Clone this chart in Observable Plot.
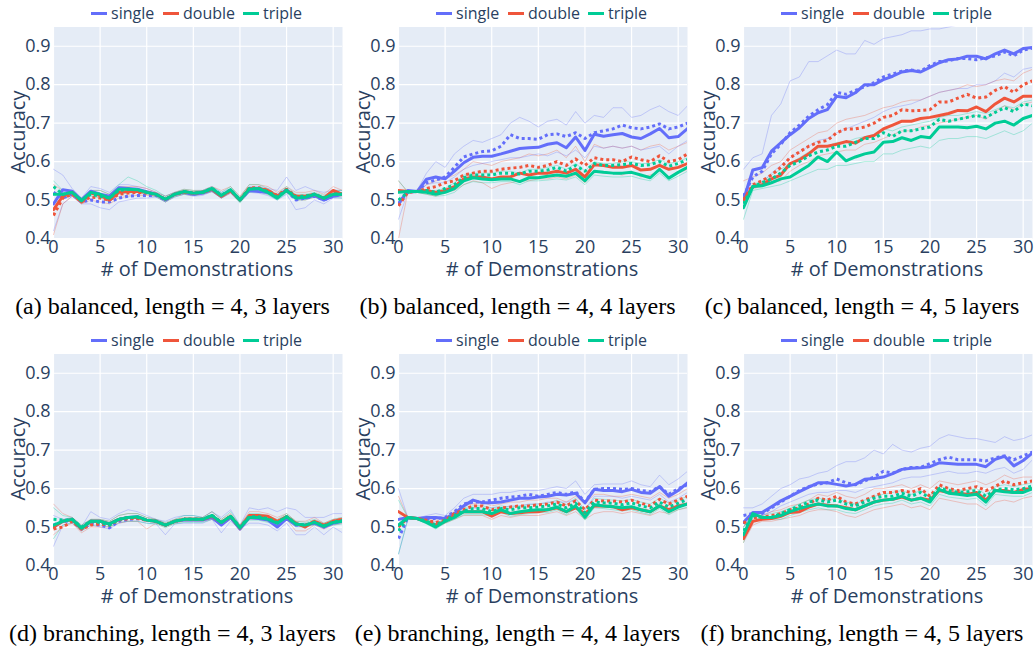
<!DOCTYPE html>
<html><head><meta charset="utf-8">
<script src="https://cdn.jsdelivr.net/npm/d3@7"></script>
<script src="https://cdn.jsdelivr.net/npm/@observablehq/plot@0.6"></script>
<style>
body{margin:0;background:#fff;}
#root{position:relative;width:1034px;height:651px;overflow:hidden;background:#fff;font-family:"Open Sans",sans-serif;color:#2a3f5f}
.panel{position:absolute;height:285px;overflow:hidden}
.panel svg{position:absolute;left:0;top:0}
.lt{position:absolute;top:0;font-size:16px;line-height:26px;white-space:nowrap}
.sw{position:absolute;top:11.5px;width:16px;height:3px}
.ytitle{position:absolute;left:18px;top:132px;transform:translate(-50%,-50%) rotate(-90deg);font-size:20px;line-height:1;white-space:nowrap}
.xtitle{position:absolute;left:197px;top:269px;transform:translate(-50%,-50%);font-size:20px;line-height:1;white-space:nowrap}
.cap{position:absolute;text-align:center;font-family:"Liberation Serif","Times New Roman",serif;font-size:24px;line-height:26px;color:#000;white-space:nowrap}
</style></head>
<body><div id="root"></div>
<script>
// ---------- data ----------
const demos = [0,1,2,3,4,5,6,7,8,9,10,11,12,13,14,15,16,17,18,19,20,21,22,23,24,25,26,27,28,29,30,31];
const seriesNames = ["single","double","triple"];
const seriesColors = ["#636EFA","#EF553B","#00CC96"];
const xTicks = [0,5,10,15,20,25,30];
const yTicks = [0.4,0.5,0.6,0.7,0.8,0.9];
const captions = [
  "(a) balanced, length = 4, 3 layers",
  "(b) balanced, length = 4, 4 layers",
  "(c) balanced, length = 4, 5 layers",
  "(d) branching, length = 4, 3 layers",
  "(e) branching, length = 4, 4 layers",
  "(f) branching, length = 4, 5 layers"
];

// panel (a)
const A_sS = [0.49,0.527,0.523,0.5,0.523,0.515,0.51,0.532,0.53,0.528,0.522,0.515,0.5,0.515,0.52,0.515,0.518,0.527,0.51,0.525,0.5,0.525,0.522,0.52,0.51,0.527,0.505,0.505,0.512,0.5,0.51,0.515];
const A_sD = [0.52,0.505,0.515,0.495,0.5,0.495,0.495,0.505,0.51,0.512,0.512,0.512,0.5,0.515,0.52,0.515,0.52,0.528,0.512,0.525,0.5,0.525,0.525,0.52,0.51,0.525,0.5,0.505,0.51,0.5,0.51,0.515];
const A_sH = [0.58,0.565,0.53,0.505,0.535,0.53,0.52,0.54,0.54,0.535,0.53,0.52,0.51,0.52,0.525,0.522,0.525,0.535,0.52,0.53,0.505,0.535,0.535,0.53,0.525,0.56,0.525,0.535,0.525,0.52,0.525,0.525];
const A_sL = [0.42,0.49,0.51,0.49,0.49,0.48,0.475,0.495,0.5,0.505,0.505,0.508,0.495,0.508,0.515,0.51,0.512,0.522,0.505,0.518,0.495,0.52,0.518,0.512,0.5,0.515,0.475,0.48,0.5,0.49,0.505,0.505];
const A_dS = [0.475,0.51,0.52,0.495,0.518,0.512,0.5,0.52,0.522,0.522,0.52,0.515,0.502,0.515,0.522,0.518,0.52,0.528,0.51,0.525,0.5,0.53,0.53,0.525,0.51,0.525,0.51,0.51,0.515,0.505,0.525,0.515];
const A_dD = [0.46,0.505,0.515,0.495,0.508,0.505,0.5,0.515,0.518,0.52,0.518,0.515,0.502,0.515,0.52,0.518,0.52,0.53,0.51,0.525,0.5,0.532,0.532,0.525,0.512,0.528,0.51,0.51,0.515,0.505,0.52,0.515];
const A_dH = [0.54,0.525,0.525,0.505,0.525,0.525,0.515,0.535,0.535,0.535,0.53,0.52,0.51,0.52,0.528,0.525,0.525,0.535,0.525,0.535,0.51,0.54,0.54,0.535,0.52,0.535,0.52,0.52,0.525,0.515,0.535,0.525];
const A_dL = [0.41,0.49,0.51,0.49,0.5,0.495,0.49,0.505,0.51,0.512,0.512,0.51,0.495,0.51,0.515,0.512,0.515,0.522,0.505,0.518,0.495,0.522,0.522,0.515,0.505,0.52,0.5,0.5,0.508,0.5,0.51,0.51];
const A_tS = [0.515,0.515,0.52,0.498,0.52,0.515,0.505,0.528,0.528,0.527,0.52,0.515,0.502,0.515,0.522,0.518,0.52,0.53,0.512,0.527,0.5,0.528,0.53,0.52,0.505,0.525,0.505,0.507,0.515,0.505,0.515,0.515];
const A_tD = [0.535,0.515,0.52,0.5,0.515,0.51,0.505,0.525,0.528,0.527,0.52,0.515,0.502,0.515,0.522,0.518,0.52,0.53,0.513,0.527,0.5,0.53,0.53,0.522,0.508,0.526,0.508,0.51,0.515,0.505,0.516,0.515];
const A_tH = [0.55,0.525,0.525,0.505,0.525,0.525,0.515,0.54,0.56,0.55,0.535,0.525,0.51,0.52,0.528,0.525,0.525,0.535,0.52,0.535,0.508,0.54,0.54,0.53,0.515,0.535,0.515,0.515,0.52,0.512,0.525,0.525];
const A_tL = [0.49,0.505,0.515,0.492,0.51,0.505,0.495,0.515,0.518,0.52,0.515,0.508,0.495,0.508,0.515,0.512,0.515,0.522,0.505,0.52,0.492,0.52,0.522,0.515,0.5,0.518,0.5,0.5,0.508,0.498,0.508,0.505];

// panel (b)
const B_sS = [0.49,0.525,0.522,0.554,0.56,0.555,0.575,0.597,0.611,0.614,0.614,0.62,0.627,0.634,0.636,0.637,0.645,0.649,0.636,0.664,0.629,0.671,0.666,0.67,0.673,0.664,0.66,0.672,0.686,0.662,0.665,0.686];
const B_sD = [0.49,0.52,0.522,0.545,0.552,0.56,0.585,0.612,0.62,0.626,0.628,0.64,0.67,0.66,0.66,0.658,0.67,0.672,0.665,0.675,0.66,0.675,0.68,0.685,0.695,0.688,0.685,0.69,0.698,0.685,0.69,0.70];
const B_sH = [0.45,0.52,0.525,0.57,0.6,0.585,0.62,0.64,0.655,0.65,0.66,0.67,0.7,0.715,0.705,0.69,0.705,0.71,0.695,0.73,0.7,0.72,0.715,0.74,0.74,0.715,0.72,0.735,0.745,0.73,0.72,0.745];
const B_sL = [0.5,0.52,0.522,0.54,0.545,0.545,0.56,0.58,0.59,0.595,0.6,0.605,0.61,0.61,0.615,0.62,0.615,0.625,0.615,0.63,0.61,0.64,0.635,0.64,0.635,0.64,0.63,0.635,0.64,0.62,0.64,0.655];
const B_dS = [0.525,0.522,0.522,0.525,0.52,0.525,0.535,0.555,0.56,0.56,0.555,0.56,0.56,0.57,0.565,0.57,0.57,0.575,0.57,0.58,0.56,0.592,0.59,0.585,0.585,0.59,0.578,0.58,0.59,0.58,0.585,0.595];
const B_dD = [0.485,0.52,0.522,0.53,0.535,0.545,0.55,0.565,0.57,0.575,0.575,0.58,0.583,0.585,0.59,0.585,0.59,0.6,0.59,0.607,0.59,0.61,0.605,0.605,0.6,0.612,0.605,0.6,0.615,0.6,0.605,0.62];
const B_dH = [0.55,0.52,0.522,0.54,0.55,0.555,0.565,0.58,0.6,0.595,0.59,0.6,0.605,0.61,0.62,0.615,0.62,0.63,0.61,0.64,0.6,0.645,0.635,0.64,0.635,0.64,0.63,0.64,0.645,0.63,0.64,0.65];
const B_dL = [0.40,0.52,0.52,0.515,0.51,0.52,0.525,0.54,0.55,0.545,0.53,0.54,0.545,0.55,0.55,0.555,0.555,0.56,0.555,0.565,0.545,0.575,0.57,0.57,0.565,0.575,0.56,0.565,0.575,0.56,0.57,0.58];
const B_tS = [0.52,0.522,0.522,0.52,0.515,0.52,0.53,0.55,0.558,0.555,0.553,0.555,0.555,0.548,0.558,0.558,0.562,0.565,0.562,0.57,0.55,0.575,0.572,0.57,0.57,0.572,0.565,0.558,0.58,0.557,0.572,0.585];
const B_tD = [0.5,0.52,0.522,0.525,0.52,0.53,0.54,0.558,0.565,0.565,0.565,0.57,0.57,0.568,0.575,0.575,0.578,0.585,0.575,0.59,0.575,0.595,0.59,0.59,0.592,0.595,0.59,0.592,0.6,0.588,0.595,0.605];
const B_tH = [0.55,0.522,0.522,0.525,0.525,0.53,0.545,0.565,0.57,0.57,0.57,0.575,0.575,0.57,0.58,0.58,0.585,0.59,0.58,0.595,0.575,0.6,0.595,0.595,0.6,0.6,0.595,0.595,0.605,0.595,0.6,0.61];
const B_tL = [0.5,0.52,0.52,0.515,0.51,0.512,0.52,0.54,0.548,0.545,0.545,0.548,0.548,0.54,0.55,0.55,0.552,0.555,0.552,0.56,0.54,0.565,0.562,0.56,0.56,0.562,0.555,0.55,0.57,0.55,0.562,0.575];

// panel (c)
const C_sS = [0.50,0.578,0.584,0.627,0.649,0.67,0.688,0.712,0.727,0.735,0.77,0.766,0.779,0.80,0.80,0.813,0.822,0.833,0.837,0.833,0.845,0.857,0.865,0.867,0.874,0.874,0.867,0.88,0.89,0.88,0.894,0.897];
const C_sD = [0.51,0.56,0.575,0.62,0.645,0.675,0.695,0.718,0.735,0.748,0.78,0.775,0.785,0.795,0.805,0.82,0.828,0.835,0.838,0.835,0.85,0.86,0.862,0.868,0.868,0.865,0.87,0.875,0.885,0.875,0.89,0.895];
const C_sH = [0.58,0.61,0.62,0.72,0.75,0.81,0.82,0.86,0.86,0.875,0.89,0.88,0.88,0.915,0.905,0.92,0.925,0.93,0.94,0.94,0.945,0.945,0.95,0.955,0.96,0.96,0.965,0.965,0.97,0.97,0.97,0.975];
const C_sL = [0.5,0.53,0.545,0.57,0.59,0.61,0.625,0.64,0.655,0.66,0.675,0.685,0.695,0.705,0.715,0.73,0.74,0.745,0.75,0.76,0.77,0.78,0.785,0.79,0.79,0.8,0.8,0.81,0.83,0.82,0.84,0.845];
const C_dS = [0.50,0.535,0.54,0.555,0.565,0.595,0.605,0.62,0.64,0.64,0.645,0.652,0.648,0.662,0.668,0.685,0.695,0.705,0.705,0.712,0.715,0.72,0.725,0.733,0.732,0.742,0.73,0.75,0.765,0.755,0.77,0.77];
const C_dD = [0.50,0.54,0.55,0.565,0.585,0.61,0.625,0.64,0.65,0.655,0.675,0.685,0.685,0.69,0.70,0.715,0.72,0.735,0.732,0.733,0.735,0.755,0.755,0.765,0.775,0.765,0.768,0.785,0.795,0.78,0.80,0.81];
const C_dH = [0.55,0.56,0.57,0.59,0.6,0.63,0.645,0.66,0.675,0.68,0.7,0.71,0.715,0.72,0.73,0.74,0.745,0.755,0.76,0.76,0.77,0.78,0.785,0.79,0.8,0.795,0.8,0.81,0.815,0.81,0.83,0.84];
const C_dL = [0.48,0.53,0.535,0.545,0.55,0.575,0.59,0.6,0.615,0.62,0.625,0.63,0.63,0.645,0.65,0.66,0.67,0.68,0.68,0.69,0.695,0.7,0.705,0.71,0.715,0.72,0.71,0.73,0.745,0.735,0.75,0.755];
const C_tS = [0.48,0.535,0.537,0.545,0.555,0.56,0.575,0.59,0.612,0.60,0.625,0.602,0.612,0.62,0.625,0.65,0.652,0.662,0.655,0.665,0.662,0.69,0.69,0.69,0.688,0.692,0.685,0.70,0.705,0.695,0.712,0.72];
const C_tD = [0.49,0.535,0.545,0.555,0.57,0.59,0.60,0.615,0.625,0.63,0.64,0.64,0.65,0.66,0.66,0.675,0.665,0.68,0.68,0.685,0.69,0.71,0.705,0.71,0.715,0.72,0.715,0.728,0.74,0.73,0.75,0.745];
const C_tH = [0.5,0.54,0.55,0.565,0.58,0.595,0.61,0.625,0.635,0.64,0.65,0.65,0.66,0.665,0.67,0.685,0.68,0.69,0.695,0.7,0.705,0.715,0.72,0.72,0.725,0.73,0.725,0.735,0.745,0.74,0.755,0.76];
const C_tL = [0.45,0.525,0.53,0.535,0.54,0.55,0.56,0.57,0.58,0.58,0.59,0.59,0.595,0.6,0.6,0.62,0.62,0.63,0.635,0.64,0.635,0.655,0.66,0.66,0.665,0.665,0.66,0.67,0.68,0.67,0.68,0.7];

// panel (d)
const D_sS = [0.5,0.515,0.52,0.497,0.515,0.515,0.508,0.52,0.525,0.527,0.518,0.515,0.505,0.515,0.518,0.518,0.518,0.525,0.505,0.525,0.495,0.525,0.522,0.518,0.5,0.522,0.505,0.505,0.51,0.5,0.51,0.515];
const D_sD = [0.505,0.515,0.515,0.495,0.508,0.505,0.498,0.515,0.52,0.522,0.518,0.515,0.505,0.515,0.52,0.52,0.52,0.528,0.51,0.525,0.498,0.525,0.525,0.522,0.51,0.525,0.505,0.505,0.512,0.5,0.512,0.515];
const D_sH = [0.53,0.52,0.525,0.5,0.54,0.525,0.52,0.535,0.545,0.54,0.53,0.52,0.515,0.525,0.53,0.53,0.525,0.54,0.525,0.545,0.505,0.55,0.545,0.55,0.54,0.55,0.545,0.525,0.525,0.525,0.535,0.535];
const D_sL = [0.45,0.505,0.51,0.49,0.505,0.5,0.495,0.51,0.515,0.515,0.51,0.508,0.48,0.508,0.51,0.51,0.51,0.52,0.485,0.515,0.495,0.51,0.51,0.505,0.49,0.51,0.48,0.48,0.5,0.48,0.5,0.485];
const D_dS = [0.5,0.515,0.52,0.495,0.515,0.515,0.508,0.52,0.525,0.525,0.518,0.515,0.505,0.515,0.52,0.52,0.52,0.528,0.512,0.528,0.498,0.53,0.53,0.528,0.515,0.527,0.51,0.5,0.515,0.505,0.515,0.52];
const D_dD = [0.495,0.5,0.515,0.495,0.505,0.508,0.505,0.518,0.522,0.522,0.518,0.515,0.505,0.515,0.52,0.52,0.52,0.53,0.512,0.528,0.498,0.528,0.528,0.525,0.512,0.527,0.508,0.505,0.515,0.502,0.515,0.52];
const D_dH = [0.56,0.535,0.525,0.505,0.52,0.52,0.515,0.53,0.535,0.535,0.525,0.52,0.51,0.52,0.525,0.525,0.525,0.54,0.52,0.535,0.505,0.54,0.54,0.535,0.525,0.535,0.515,0.515,0.525,0.51,0.52,0.525];
const D_dL = [0.48,0.5,0.51,0.485,0.5,0.5,0.5,0.51,0.515,0.515,0.495,0.51,0.5,0.51,0.515,0.515,0.515,0.52,0.505,0.52,0.49,0.52,0.52,0.515,0.505,0.52,0.49,0.49,0.505,0.495,0.505,0.51];
const D_tS = [0.505,0.515,0.52,0.497,0.515,0.515,0.508,0.52,0.525,0.527,0.518,0.515,0.505,0.515,0.52,0.52,0.52,0.53,0.512,0.528,0.498,0.525,0.525,0.52,0.51,0.527,0.508,0.505,0.512,0.502,0.512,0.515];
const D_tD = [0.52,0.518,0.52,0.5,0.515,0.512,0.505,0.52,0.525,0.525,0.518,0.515,0.505,0.515,0.52,0.52,0.52,0.53,0.512,0.528,0.5,0.527,0.527,0.522,0.512,0.527,0.508,0.505,0.513,0.503,0.513,0.517];
const D_tH = [0.55,0.53,0.525,0.505,0.52,0.52,0.515,0.53,0.535,0.535,0.525,0.52,0.512,0.52,0.53,0.53,0.525,0.54,0.52,0.54,0.505,0.535,0.535,0.53,0.52,0.535,0.515,0.512,0.52,0.51,0.52,0.525];
const D_tL = [0.47,0.505,0.512,0.49,0.505,0.505,0.5,0.512,0.515,0.515,0.51,0.508,0.498,0.508,0.512,0.512,0.512,0.52,0.505,0.52,0.493,0.518,0.518,0.512,0.505,0.518,0.5,0.5,0.505,0.498,0.505,0.508];

// panel (e)
const E_sS = [0.52,0.525,0.522,0.525,0.525,0.522,0.535,0.555,0.57,0.563,0.563,0.565,0.57,0.575,0.575,0.578,0.58,0.585,0.583,0.588,0.563,0.598,0.595,0.595,0.592,0.598,0.59,0.588,0.605,0.58,0.595,0.615];
const E_sD = [0.47,0.525,0.522,0.522,0.522,0.525,0.54,0.56,0.565,0.565,0.57,0.575,0.578,0.58,0.585,0.58,0.585,0.59,0.585,0.592,0.565,0.598,0.6,0.6,0.598,0.6,0.595,0.592,0.605,0.585,0.6,0.61];
const E_sH = [0.6,0.525,0.522,0.53,0.535,0.53,0.55,0.575,0.585,0.585,0.585,0.59,0.59,0.595,0.595,0.595,0.6,0.605,0.6,0.62,0.585,0.61,0.612,0.612,0.612,0.62,0.61,0.605,0.635,0.61,0.625,0.645];
const E_sL = [0.43,0.52,0.52,0.515,0.515,0.515,0.525,0.545,0.55,0.545,0.55,0.55,0.555,0.555,0.56,0.56,0.565,0.565,0.565,0.57,0.545,0.58,0.58,0.58,0.575,0.58,0.575,0.57,0.585,0.565,0.575,0.59];
const E_dS = [0.54,0.525,0.522,0.515,0.505,0.515,0.53,0.54,0.54,0.54,0.528,0.54,0.535,0.537,0.54,0.54,0.545,0.55,0.54,0.55,0.535,0.555,0.555,0.553,0.545,0.55,0.545,0.54,0.555,0.545,0.555,0.56];
const E_dD = [0.5,0.525,0.522,0.518,0.512,0.518,0.535,0.545,0.555,0.555,0.545,0.55,0.552,0.555,0.555,0.558,0.56,0.565,0.555,0.568,0.545,0.57,0.568,0.568,0.565,0.57,0.562,0.555,0.572,0.56,0.57,0.58];
const E_dH = [0.58,0.525,0.522,0.525,0.52,0.525,0.54,0.555,0.56,0.565,0.555,0.56,0.565,0.565,0.57,0.57,0.575,0.575,0.565,0.58,0.56,0.585,0.585,0.58,0.58,0.585,0.58,0.575,0.59,0.575,0.585,0.6];
const E_dL = [0.5,0.52,0.52,0.51,0.5,0.51,0.52,0.53,0.53,0.53,0.52,0.53,0.525,0.53,0.53,0.53,0.535,0.54,0.53,0.54,0.52,0.535,0.54,0.54,0.535,0.54,0.535,0.53,0.54,0.535,0.545,0.55];
const E_tS = [0.505,0.525,0.522,0.512,0.5,0.515,0.525,0.54,0.54,0.54,0.535,0.545,0.535,0.54,0.543,0.545,0.545,0.552,0.54,0.555,0.525,0.558,0.555,0.553,0.55,0.553,0.545,0.54,0.555,0.54,0.552,0.56];
const E_tD = [0.49,0.525,0.522,0.515,0.505,0.518,0.53,0.542,0.548,0.548,0.54,0.548,0.545,0.55,0.55,0.552,0.555,0.56,0.55,0.562,0.538,0.565,0.563,0.562,0.558,0.563,0.555,0.55,0.565,0.552,0.562,0.572];
const E_tH = [0.57,0.525,0.522,0.52,0.51,0.52,0.535,0.55,0.555,0.555,0.55,0.555,0.552,0.555,0.558,0.56,0.562,0.57,0.558,0.575,0.545,0.575,0.572,0.57,0.568,0.572,0.565,0.56,0.575,0.562,0.57,0.58];
const E_tL = [0.43,0.52,0.52,0.508,0.495,0.51,0.52,0.532,0.532,0.532,0.528,0.538,0.528,0.532,0.535,0.538,0.538,0.545,0.532,0.548,0.518,0.55,0.548,0.545,0.542,0.545,0.538,0.532,0.548,0.532,0.545,0.552];

// panel (f)
const F_sS = [0.512,0.538,0.538,0.553,0.568,0.58,0.592,0.604,0.615,0.615,0.611,0.607,0.611,0.624,0.626,0.63,0.639,0.65,0.653,0.654,0.657,0.667,0.665,0.663,0.663,0.663,0.657,0.676,0.684,0.659,0.673,0.693];
const F_sD = [0.53,0.535,0.535,0.55,0.565,0.58,0.595,0.605,0.612,0.615,0.625,0.615,0.61,0.62,0.63,0.645,0.64,0.65,0.655,0.655,0.665,0.675,0.682,0.675,0.675,0.675,0.672,0.68,0.685,0.675,0.685,0.695];
const F_sH = [0.55,0.55,0.56,0.58,0.6,0.61,0.625,0.63,0.64,0.645,0.66,0.67,0.67,0.68,0.7,0.69,0.715,0.7,0.695,0.705,0.71,0.73,0.74,0.735,0.73,0.73,0.725,0.72,0.735,0.725,0.73,0.74];
const F_sL = [0.5,0.53,0.53,0.54,0.555,0.565,0.575,0.585,0.59,0.59,0.595,0.595,0.59,0.6,0.605,0.61,0.615,0.625,0.63,0.63,0.635,0.64,0.645,0.64,0.64,0.645,0.64,0.65,0.655,0.64,0.65,0.675];
const F_dS = [0.47,0.515,0.52,0.522,0.528,0.538,0.54,0.552,0.56,0.557,0.555,0.55,0.545,0.555,0.565,0.57,0.572,0.578,0.57,0.575,0.57,0.595,0.59,0.588,0.585,0.59,0.57,0.595,0.595,0.59,0.598,0.6];
const F_dD = [0.51,0.525,0.525,0.53,0.535,0.545,0.55,0.56,0.575,0.57,0.58,0.565,0.56,0.57,0.58,0.59,0.59,0.595,0.59,0.6,0.58,0.61,0.6,0.595,0.6,0.605,0.595,0.605,0.62,0.61,0.615,0.62];
const F_dH = [0.5,0.53,0.53,0.54,0.545,0.555,0.56,0.57,0.585,0.58,0.59,0.58,0.575,0.585,0.6,0.6,0.605,0.61,0.6,0.61,0.6,0.62,0.615,0.61,0.615,0.62,0.61,0.62,0.635,0.625,0.63,0.63];
const F_dL = [0.46,0.505,0.515,0.515,0.52,0.525,0.53,0.54,0.545,0.545,0.54,0.53,0.525,0.535,0.545,0.55,0.555,0.56,0.55,0.555,0.545,0.575,0.57,0.565,0.56,0.56,0.545,0.565,0.57,0.565,0.575,0.58];
const F_tS = [0.48,0.535,0.525,0.525,0.53,0.54,0.548,0.555,0.56,0.555,0.555,0.548,0.545,0.555,0.565,0.57,0.572,0.58,0.57,0.575,0.565,0.598,0.588,0.585,0.582,0.585,0.565,0.595,0.592,0.59,0.59,0.6];
const F_tD = [0.49,0.53,0.525,0.525,0.535,0.545,0.555,0.565,0.57,0.565,0.57,0.56,0.555,0.565,0.575,0.58,0.58,0.588,0.58,0.59,0.575,0.6,0.595,0.59,0.592,0.595,0.58,0.597,0.6,0.597,0.6,0.607];
const F_tH = [0.5,0.54,0.53,0.535,0.54,0.55,0.56,0.57,0.575,0.57,0.575,0.565,0.56,0.57,0.58,0.585,0.59,0.595,0.585,0.595,0.58,0.605,0.6,0.595,0.598,0.6,0.585,0.605,0.61,0.605,0.61,0.615];
const F_tL = [0.46,0.525,0.52,0.52,0.52,0.53,0.538,0.545,0.55,0.545,0.545,0.538,0.535,0.545,0.555,0.56,0.562,0.57,0.56,0.565,0.555,0.585,0.578,0.575,0.572,0.575,0.555,0.585,0.582,0.58,0.58,0.59];

// ---------- layout ----------
const panels = [
  {cap: captions[0], col: 0, row: 0, d: {single: [A_sS, A_sD, A_sH, A_sL], double: [A_dS, A_dD, A_dH, A_dL], triple: [A_tS, A_tD, A_tH, A_tL]}},
  {cap: captions[1], col: 1, row: 0, d: {single: [B_sS, B_sD, B_sH, B_sL], double: [B_dS, B_dD, B_dH, B_dL], triple: [B_tS, B_tD, B_tH, B_tL]}},
  {cap: captions[2], col: 2, row: 0, d: {single: [C_sS, C_sD, C_sH, C_sL], double: [C_dS, C_dD, C_dH, C_dL], triple: [C_tS, C_tD, C_tH, C_tL]}},
  {cap: captions[3], col: 0, row: 1, d: {single: [D_sS, D_sD, D_sH, D_sL], double: [D_dS, D_dD, D_dH, D_dL], triple: [D_tS, D_tD, D_tH, D_tL]}},
  {cap: captions[4], col: 1, row: 1, d: {single: [E_sS, E_sD, E_sH, E_sL], double: [E_dS, E_dD, E_dH, E_dL], triple: [E_tS, E_tD, E_tH, E_tL]}},
  {cap: captions[5], col: 2, row: 1, d: {single: [F_sS, F_sD, F_sH, F_sL], double: [F_dS, F_dD, F_dH, F_dL], triple: [F_tS, F_tD, F_tH, F_tL]}}
];
const colLeft = [0, 345, 690], colW = [345, 345, 344], rowTop = [0, 327];
const kinds = ["solid", "dot", "hi", "lo"];
const legendPos = [[91, 111], [163, 183], [243, 263]];

const root = document.getElementById("root");

panels.forEach(p => {
  const W = colW[p.col];
  const rows = [];
  seriesNames.forEach(s => {
    p.d[s].forEach((arr, k) => {
      arr.forEach((v, i) => rows.push({x: demos[i], y: v, series: s, kind: kinds[k], key: s + kinds[k]}));
    });
  });
  const sel = k => rows.filter(r => r.kind === k);
  const plot = Plot.plot({
    width: W, height: 285,
    marginLeft: 53, marginRight: W - 342, marginTop: 26.5, marginBottom: 47,
    x: {domain: [0, 31]},
    y: {domain: [0.4, 0.95]},
    color: {domain: seriesNames, range: seriesColors},
    style: {fontFamily: '"Open Sans", sans-serif', fontSize: "18px", color: "#2a3f5f", background: "transparent"},
    marks: [
      Plot.frame({fill: "#E5ECF6", stroke: null}),
      Plot.gridX({ticks: xTicks, stroke: "#fff", strokeOpacity: 1, strokeWidth: 1.2}),
      Plot.gridY({ticks: yTicks, stroke: "#fff", strokeOpacity: 1, strokeWidth: 1.2}),
      Plot.axisX({ticks: xTicks, tickSize: 0, tickPadding: 2, label: null}),
      Plot.axisY({ticks: yTicks, tickSize: 0, tickPadding: 3, tickFormat: d3.format(".1f"), label: null}),
      Plot.line(sel("hi"), {x: "x", y: "y", z: "key", stroke: "series", strokeWidth: 1, strokeOpacity: 0.3, clip: true}),
      Plot.line(sel("lo"), {x: "x", y: "y", z: "key", stroke: "series", strokeWidth: 1, strokeOpacity: 0.3, clip: true}),
      ...seriesNames.flatMap(s => [
        Plot.line(rows.filter(r => r.series === s && r.kind === "solid"), {x: "x", y: "y", stroke: "series", strokeWidth: 3, strokeLinejoin: "round", clip: true}),
        Plot.line(rows.filter(r => r.series === s && r.kind === "dot"), {x: "x", y: "y", stroke: "series", strokeWidth: 3, strokeDasharray: "3,3", strokeLinecap: "butt", clip: true})
      ])
    ]
  });
  const div = document.createElement("div");
  div.className = "panel";
  div.style.left = colLeft[p.col] + "px";
  div.style.top = rowTop[p.row] + "px";
  div.style.width = W + "px";
  div.appendChild(plot);
  // legend
  seriesNames.forEach((s, i) => {
    const sw = document.createElement("div");
    sw.className = "sw";
    sw.style.left = legendPos[i][0] + "px";
    sw.style.background = seriesColors[i];
    div.appendChild(sw);
    const t = document.createElement("div");
    t.className = "lt";
    t.style.left = legendPos[i][1] + "px";
    t.textContent = s;
    div.appendChild(t);
  });
  const yt = document.createElement("div"); yt.className = "ytitle"; yt.textContent = "Accuracy"; div.appendChild(yt);
  const xt = document.createElement("div"); xt.className = "xtitle"; xt.textContent = "# of Demonstrations"; div.appendChild(xt);
  root.appendChild(div);
  const cap = document.createElement("div");
  cap.className = "cap";
  cap.style.left = colLeft[p.col] + "px";
  cap.style.width = W + "px";
  cap.style.top = (rowTop[p.row] + 293) + "px";
  cap.textContent = p.cap;
  root.appendChild(cap);
});
</script></body></html>
